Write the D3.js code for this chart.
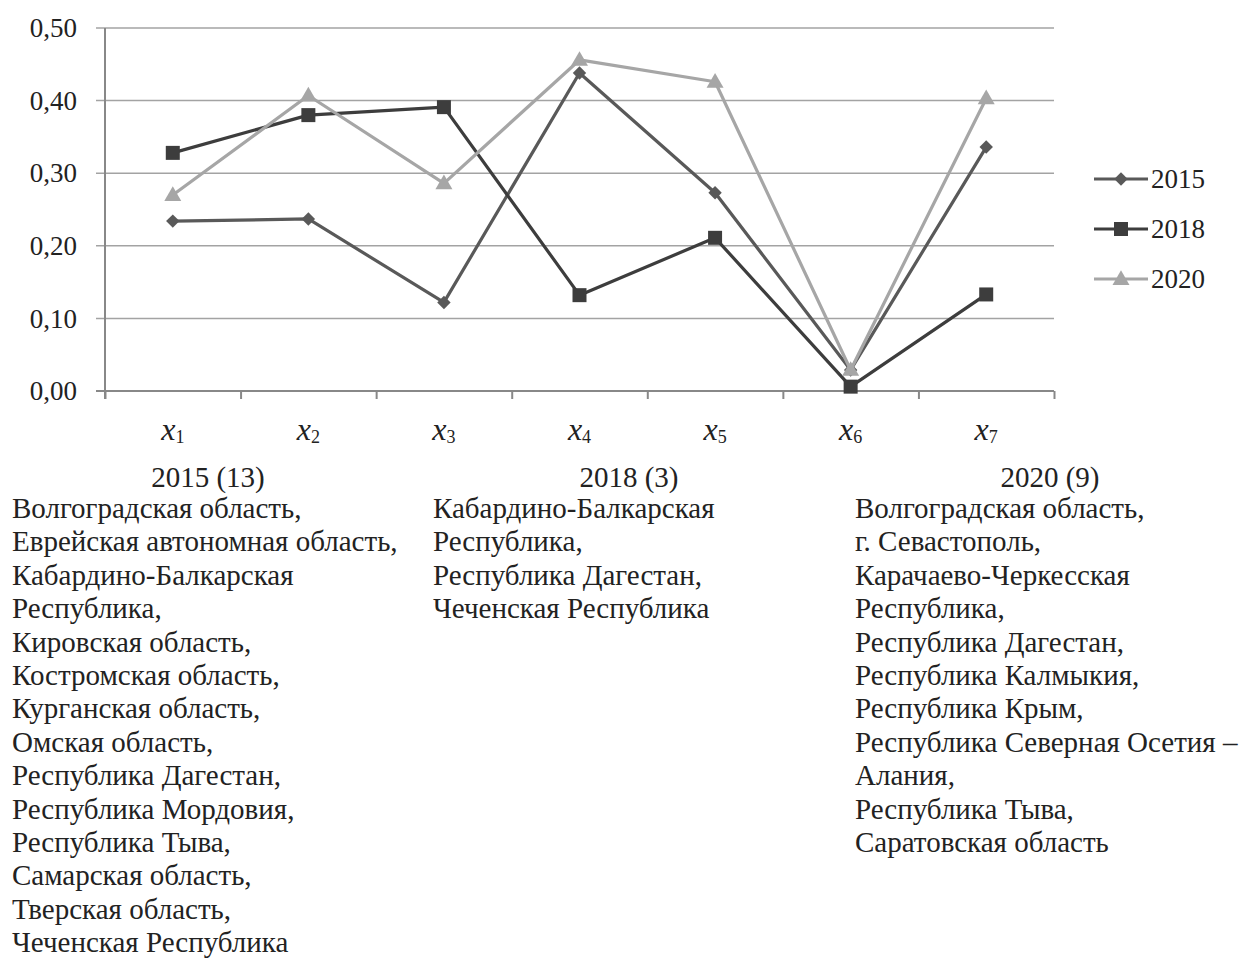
<!DOCTYPE html>
<html>
<head>
<meta charset="utf-8">
<script src="https://cdn.jsdelivr.net/npm/d3@7"></script>
<style>
  html, body { margin: 0; padding: 0; background: #fff; }
  svg { display: block; }
</style>
</head>
<body>
<svg id="chart" width="1240" height="961"></svg>
<script>
// ---- data ----
const categories = ["1", "2", "3", "4", "5", "6", "7"];
const seriesNames = ["2015", "2018", "2020"];
const values2015 = [0.234, 0.237, 0.122, 0.438, 0.273, 0.029, 0.336];
const values2018 = [0.328, 0.380, 0.391, 0.132, 0.211, 0.006, 0.133];
const values2020 = [0.270, 0.407, 0.286, 0.456, 0.426, 0.029, 0.403];
const yTicks = [0, 0.1, 0.2, 0.3, 0.4, 0.5];

const groupTitles = ["2015 (13)", "2018 (3)", "2020 (9)"];
const group2015 = ["Волгоградская область,", "Еврейская автономная область,", "Кабардино-Балкарская", "Республика,",
  "Кировская область,", "Костромская область,", "Курганская область,", "Омская область,",
  "Республика Дагестан,", "Республика Мордовия,", "Республика Тыва,", "Самарская область,",
  "Тверская область,", "Чеченская Республика"];
const group2018 = ["Кабардино-Балкарская", "Республика,", "Республика Дагестан,", "Чеченская Республика"];
const group2020 = ["Волгоградская область,", "г. Севастополь,", "Карачаево-Черкесская", "Республика,",
  "Республика Дагестан,", "Республика Калмыкия,", "Республика Крым,", "Республика Северная Осетия –",
  "Алания,", "Республика Тыва,", "Саратовская область"];

// ---- setup ----
const svg = d3.select("#chart");
const plotL = 105, plotR = 1054, plotT = 28, plotB = 391;
const x = d3.scaleBand().domain(categories).range([plotL, plotR]).padding(0);
const y = d3.scaleLinear().domain([0, 0.5]).range([plotB, plotT]);
const ruFmt = d3.formatLocale({decimal: ",", thousands: " ", grouping: [3], currency: ["", ""]}).format(".2f");
const serif = "'Liberation Serif', 'Times New Roman', serif";

const styles = [
  {name: seriesNames[0], values: values2015, color: "#595959", shape: "diamond"},
  {name: seriesNames[1], values: values2018, color: "#3d3d3d", shape: "square"},
  {name: seriesNames[2], values: values2020, color: "#a6a6a6", shape: "triangle"}
];

// y axis labels
const gy = svg.append("g").attr("transform", `translate(${plotL - 9},0)`);
gy.call(d3.axisLeft(y).tickValues(yTicks).tickFormat(ruFmt).tickSize(0).tickPadding(19));
gy.select(".domain").remove();
gy.selectAll("text").attr("font-family", serif).attr("font-size", 27).attr("fill", "#222");

// gridlines
svg.append("g").selectAll("line").data(yTicks.filter(d => d > 0)).join("line")
  .attr("x1", plotL - 9).attr("x2", plotR).attr("y1", d => y(d)).attr("y2", d => y(d))
  .attr("stroke", "#a3a3a3").attr("stroke-width", 1.5);
svg.append("line").attr("x1", plotL - 9).attr("x2", plotL).attr("y1", y(0)).attr("y2", y(0))
  .attr("stroke", "#888").attr("stroke-width", 2);

// x axis with ticks at band boundaries
const xb = d3.scaleLinear().domain([0, categories.length]).range([plotL, plotR]);
const gx = svg.append("g").attr("transform", `translate(0,${plotB})`);
gx.call(d3.axisBottom(xb).tickValues(d3.range(0, categories.length + 1)).tickSize(8).tickFormat(""));
gx.select(".domain").attr("stroke", "#888").attr("stroke-width", 2).attr("d", `M${plotL},0H${plotR}`);
gx.selectAll(".tick line").attr("stroke", "#888").attr("stroke-width", 2);
svg.append("line").attr("x1", plotL).attr("x2", plotL).attr("y1", plotT).attr("y2", plotB + 8)
  .attr("stroke", "#888").attr("stroke-width", 2);

// x labels (italic x with subscript)
const xl = svg.append("g").selectAll("text").data(categories).join("text")
  .attr("x", d => x(d) + x.bandwidth() / 2).attr("y", 440)
  .attr("text-anchor", "middle").attr("font-family", serif).attr("fill", "#222");
xl.append("tspan").attr("font-style", "italic").attr("font-size", 32).text("x");
xl.append("tspan").attr("font-size", 18).attr("dy", 3).text(d => d);

// symbols
function symbolFor(shape) {
  if (shape === "diamond") return d3.symbol().type(d3.symbolSquare).size(90)();
  if (shape === "square") return d3.symbol().type(d3.symbolSquare).size(196)();
  return d3.symbol().type(d3.symbolTriangle).size(125)();
}
function markerTransform(shape, cx, cy) {
  if (shape === "diamond") return `translate(${cx},${cy}) rotate(45)`;
  if (shape === "triangle") return `translate(${cx},${cy + 1})`;
  return `translate(${cx},${cy})`;
}

const line = d3.line().x((d, i) => x(categories[i]) + x.bandwidth() / 2).y(d => y(d));
styles.forEach(s => {
  const g = svg.append("g");
  g.append("path").attr("d", line(s.values)).attr("fill", "none")
    .attr("stroke", s.color).attr("stroke-width", 3.2).attr("stroke-linejoin", "round");
  g.selectAll("path.m").data(s.values).join("path").attr("class", "m")
    .attr("transform", (d, i) => markerTransform(s.shape, x(categories[i]) + x.bandwidth() / 2, y(d)))
    .attr("d", symbolFor(s.shape)).attr("fill", s.color);
});

// legend
const leg = svg.append("g");
styles.forEach((s, i) => {
  const ly = 179 + i * 50;
  leg.append("line").attr("x1", 1094).attr("x2", 1148).attr("y1", ly).attr("y2", ly)
    .attr("stroke", s.color).attr("stroke-width", 3.2);
  leg.append("path").attr("transform", markerTransform(s.shape, 1121, ly))
    .attr("d", symbolFor(s.shape)).attr("fill", s.color);
  leg.append("text").attr("x", 1151).attr("y", ly + 9).attr("font-family", serif)
    .attr("font-size", 27).attr("fill", "#222").text(s.name);
});

// text groups below
const groups = [group2015, group2018, group2020];
const colLeft = [12, 433, 855];
const colCenter = [208, 629, 1050];
groups.forEach((lines, gi) => {
  const g = svg.append("g").attr("font-family", serif).attr("font-size", 29).attr("fill", "#222");
  g.append("text").attr("x", colCenter[gi]).attr("y", 487).attr("text-anchor", "middle").text(groupTitles[gi]);
  g.selectAll("text.l").data(lines).join("text").attr("class", "l")
    .attr("x", colLeft[gi]).attr("y", (d, i) => 518 + i * 33.4).text(d => d);
});
</script>
</body>
</html>
